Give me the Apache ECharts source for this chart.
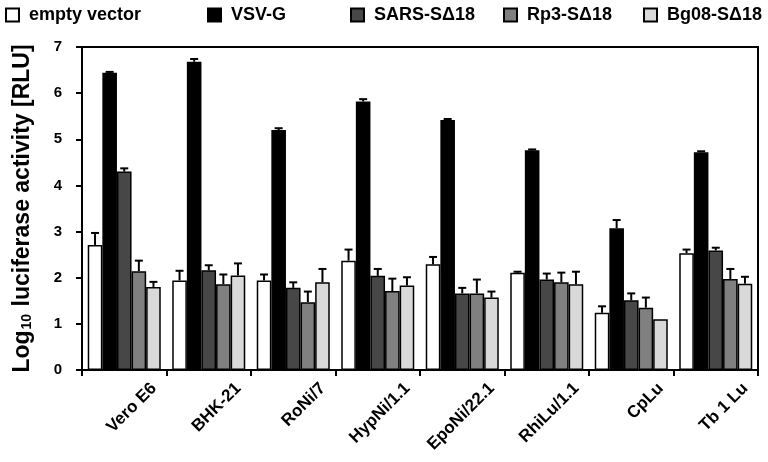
<!DOCTYPE html>
<html>
<head>
<meta charset="utf-8">
<script src="https://cdn.jsdelivr.net/npm/echarts@6/dist/echarts.min.js"></script>
<style>html,body{margin:0;padding:0;background:#fff}#chart{width:768px;height:462px}</style>
</head>
<body>
<div id="chart"></div>
<script>
const categories = ['Vero E6','BHK-21','RoNi/7','HypNi/1.1','EpoNi/22.1','RhiLu/1.1','CpLu','Tb 1 Lu'];
const seriesNames = ['empty vector','VSV-G','SARS-S\u039418','Rp3-S\u039418','Bg08-S\u039418'];
const emptyVector    = [2.71,1.94,1.94,2.37,2.29,2.11,1.24,2.53];
const emptyVectorErr = [0.26,0.21,0.13,0.24,0.16,0.02,0.14,0.08];
const vsvG    = [6.44,6.68,5.20,5.82,5.42,4.76,3.07,4.72];
const vsvGErr = [0.02,0.06,0.04,0.05,0.02,0.02,0.18,0.02];
const sars    = [4.30,2.16,1.78,2.04,1.66,1.96,1.51,2.59];
const sarsErr = [0.07,0.11,0.12,0.15,0.12,0.13,0.15,0.06];
const rp3     = [2.14,1.86,1.47,1.71,1.66,1.90,1.35,1.97];
const rp3Err  = [0.23,0.21,0.23,0.27,0.30,0.21,0.22,0.22];
const bg08    = [1.80,2.05,1.90,1.83,1.57,1.86,1.10,1.87];
const bg08Err = [0.11,0.26,0.29,0.18,0.13,0.27,0.00,0.15];
const yTicks = [0,1,2,3,4,5,6,7];

const values = [emptyVector, vsvG, sars, rp3, bg08];
const errors = [emptyVectorErr, vsvGErr, sarsErr, rp3Err, bg08Err];
const colors = ['#ffffff','#000000','#474747','#808080','#d9d9d9'];
const legendLefts = [5, 207, 350, 503, 643];
const FONT = 'Liberation Sans, Arial, sans-serif';
const GAP = 0.136;
const N = seriesNames.length;

const chart = echarts.init(document.getElementById('chart'));

const barSeries = seriesNames.map((name, k) => ({
  name: name,
  type: 'bar',
  xAxisIndex: 0,
  data: values[k],
  barGap: '0%',
  barCategoryGap: (GAP*100) + '%',
  itemStyle: { color: colors[k], borderColor: '#000', borderWidth: 1.5 },
  z: 2
}));

const errSeries = seriesNames.map((name, k) => ({
  name: name + ' err',
  type: 'custom',
  xAxisIndex: 0,
  z: 3,
  silent: true,
  data: categories.map((c, i) => [i, values[k][i], errors[k][i]]),
  renderItem: function (params, api) {
    const ci = api.value(0), v = api.value(1), e = api.value(2);
    if (!e) return null;
    const base = api.coord([ci, v]);
    const top = api.coord([ci, v + e]);
    const bandW = api.size([1, 0])[0];
    const groupW = bandW * (1 - GAP);
    const barW = groupW / N;
    const cx = base[0] - groupW / 2 + (k + 0.5) * barW;
    const st = { stroke: '#000', lineWidth: 2 };
    return {
      type: 'group',
      children: [
        { type: 'line', shape: { x1: cx, y1: base[1], x2: cx, y2: top[1] }, style: st },
        { type: 'line', shape: { x1: cx - 4, y1: top[1], x2: cx + 4, y2: top[1] }, style: st }
      ]
    };
  }
}));

const option = {
  animation: false,
  backgroundColor: '#fff',
  textStyle: { fontFamily: FONT },
  legend: seriesNames.map((n, i) => ({
    data: [n],
    left: legendLefts[i],
    top: 6,
    padding: 0,
    itemWidth: 13,
    itemHeight: 13,
    icon: 'rect',
    selectedMode: false,
    textStyle: { fontFamily: FONT, fontSize: 18, fontWeight: 'bold', color: '#000', padding: [0,0,0,5] }
  })),
  grid: { left: 82, right: 10, top: 47, bottom: 92, show: true, borderColor: '#000', borderWidth: 2 },
  xAxis: [
    {
      type: 'category',
      data: categories,
      axisLine: { lineStyle: { color: '#000', width: 2 } },
      axisTick: { show: true, interval: 0, length: 6, lineStyle: { color: '#000', width: 2 } },
      axisLabel: { show: false }
    },
    {
      type: 'value',
      min: 0,
      max: categories.length,
      interval: 1,
      position: 'bottom',
      axisLine: { show: false },
      axisTick: { show: false },
      splitLine: { show: false },
      axisLabel: {
        rotate: 45,
        margin: 3,
        formatter: v => (v >= 1 ? '{l|' + categories[v - 1] + '}' : ''),
        rich: {
          l: { fontFamily: FONT, fontSize: 17, fontWeight: 'bold', color: '#000', padding: [0, 18, 0, 0] }
        }
      }
    }
  ],
  yAxis: {
    type: 'value',
    min: yTicks[0],
    max: yTicks[yTicks.length - 1],
    interval: 1,
    name: '{a|Log}{s|10}{a| luciferase activity [RLU]}',
    nameLocation: 'middle',
    nameGap: 48,
    nameTextStyle: {
      rich: {
        a: { fontFamily: FONT, fontSize: 23, fontWeight: 'bold', color: '#000', lineHeight: 25, verticalAlign: 'bottom' },
        s: { fontFamily: FONT, fontSize: 14, fontWeight: 'bold', color: '#000', lineHeight: 25, verticalAlign: 'bottom', padding: [0, 1, 0, 1] }
      }
    },
    axisLine: { show: true, lineStyle: { color: '#000', width: 2 } },
    axisTick: { show: true, length: 6, lineStyle: { color: '#000', width: 2 } },
    splitLine: { show: false },
    axisLabel: { margin: 20, fontFamily: FONT, fontSize: 15, fontWeight: 'bold', color: '#000' }
  },
  series: barSeries.concat(errSeries)
};
chart.setOption(option);
</script>
</body>
</html>
